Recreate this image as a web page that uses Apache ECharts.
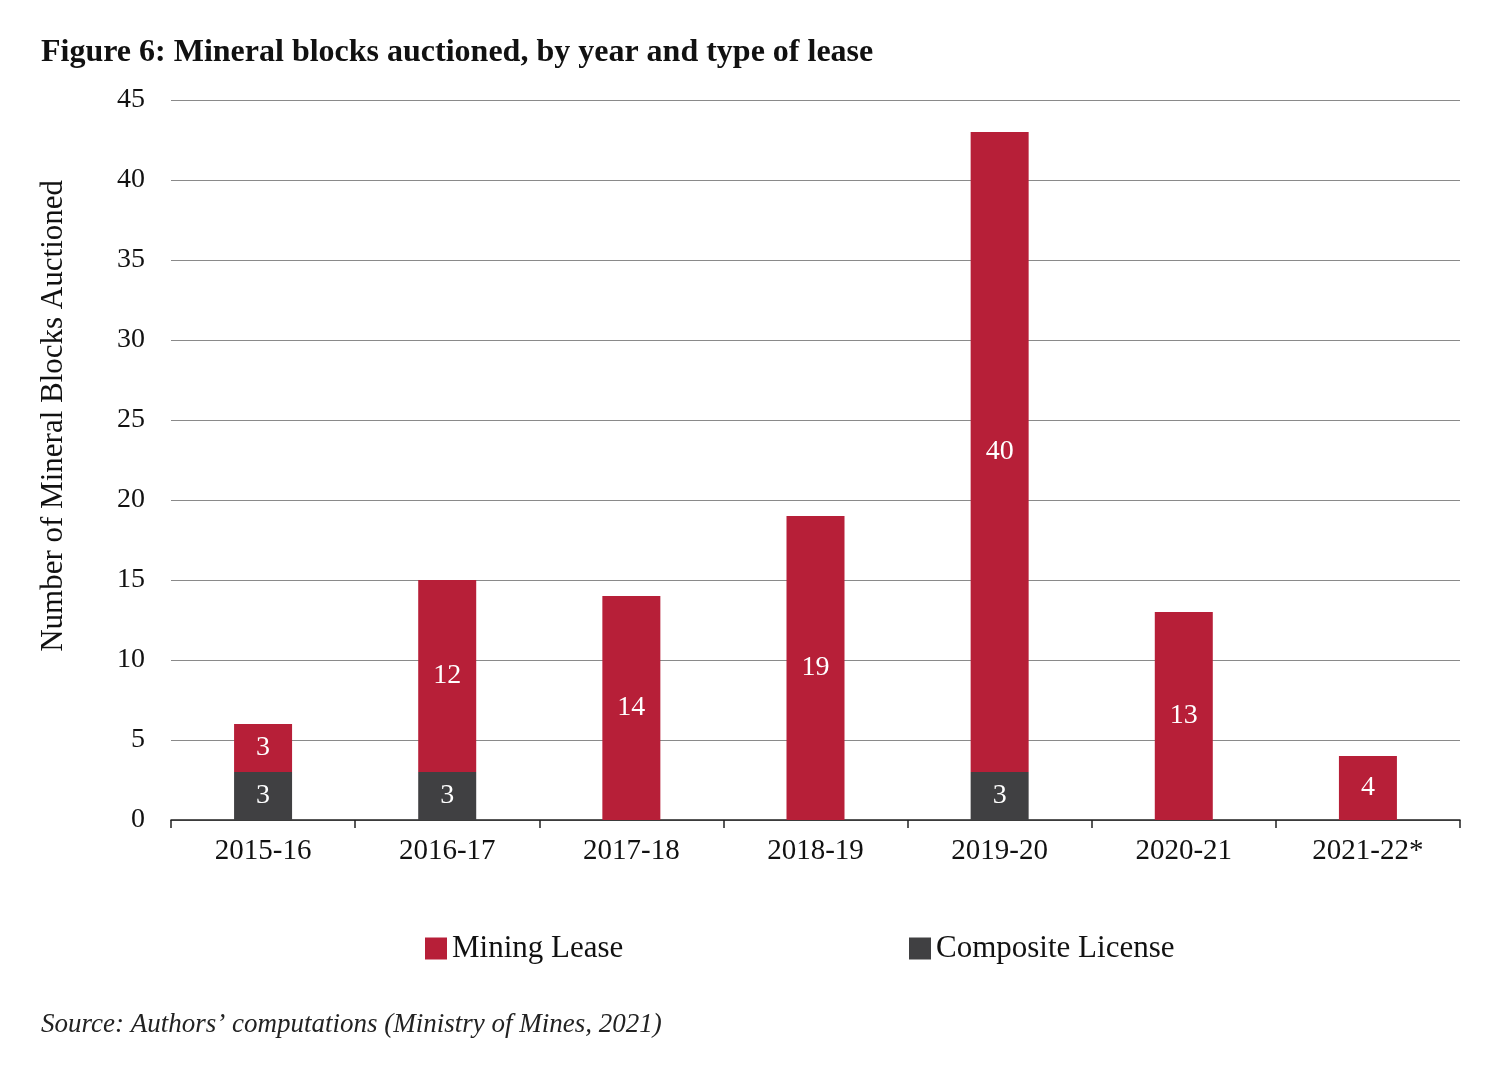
<!DOCTYPE html>
<html><head><meta charset="utf-8">
<script src="https://cdn.jsdelivr.net/npm/echarts@6/dist/echarts.min.js"></script>
<style>html,body{margin:0;padding:0;background:#fff}#c{width:1500px;height:1071px}</style>
</head><body><div id="c"></div>
<script>
const categories = ['2015-16','2016-17','2017-18','2018-19','2019-20','2020-21','2021-22*'];
const miningLease = [3, 12, 14, 19, 40, 13, 4];
const compositeLicense = [3, 3, null, null, 3, null, null];
const yTicks = {min: 0, max: 45, interval: 5};

const FONT = '"Liberation Serif", "DejaVu Serif", serif';
const chart = echarts.init(document.getElementById('c'));
chart.setOption({
  backgroundColor: '#fff',
  animation: false,
  textStyle: {fontFamily: FONT},
  title: [{
    text: 'Figure 6: Mineral blocks auctioned, by year and type of lease',
    left: 36, top: 32,
    textStyle: {fontFamily: FONT, fontSize: 32, fontWeight: 'bold', color: '#111'}
  },{
    text: 'Source: Authors\u2019 computations (Ministry of Mines, 2021)',
    left: 36, top: 1006,
    textStyle: {fontFamily: FONT, fontSize: 27, fontStyle: 'italic', fontWeight: 'normal', color: '#222'}
  }],
  legend: [{
    data: ['Mining Lease'], left: 420, top: 928,
    itemWidth: 22, itemHeight: 22, itemGap: 8,
    textStyle: {fontFamily: FONT, fontSize: 31, color: '#111'},
    icon: 'rect'
  },{
    data: ['Composite License'], left: 904, top: 928,
    itemWidth: 22, itemHeight: 22, itemGap: 8,
    textStyle: {fontFamily: FONT, fontSize: 31, color: '#111'},
    icon: 'rect'
  }],
  graphic: [{
    type: 'text', left: 38, top: 180, rotation: Math.PI / 2,
    style: {text: 'Number of Mineral Blocks Auctioned', font: '31px "Liberation Serif", serif', fill: '#111'},
    silent: true
  }],
  grid: {left: 171, right: 40, top: 100, bottom: 251, containLabel: false},
  xAxis: {
    type: 'category', data: categories,
    axisLine: {show: true, lineStyle: {color: '#222', width: 1.5}},
    axisTick: {show: true, alignWithLabel: false, length: 8, lineStyle: {color: '#222', width: 1.5}},
    axisLabel: {fontFamily: FONT, fontSize: 29, color: '#111', margin: 17}
  },
  yAxis: {
    type: 'value', min: yTicks.min, max: yTicks.max, interval: yTicks.interval,
    axisLine: {show: false}, axisTick: {show: false},
    axisLabel: {fontFamily: FONT, fontSize: 28, color: '#111', margin: 26},
    splitLine: {lineStyle: {color: '#8a8a8a', width: 1.2}}
  },
  series: [{
    name: 'Composite License', type: 'bar', stack: 'total', data: compositeLicense,
    barWidth: 58, itemStyle: {color: '#404042'},
    label: {show: true, position: 'inside', color: '#fff', fontFamily: FONT, fontSize: 28}
  },{
    name: 'Mining Lease', type: 'bar', stack: 'total', data: miningLease,
    barWidth: 58, itemStyle: {color: '#B71F38'},
    label: {show: true, position: 'inside', color: '#fff', fontFamily: FONT, fontSize: 28}
  }]
});
</script></body></html>
